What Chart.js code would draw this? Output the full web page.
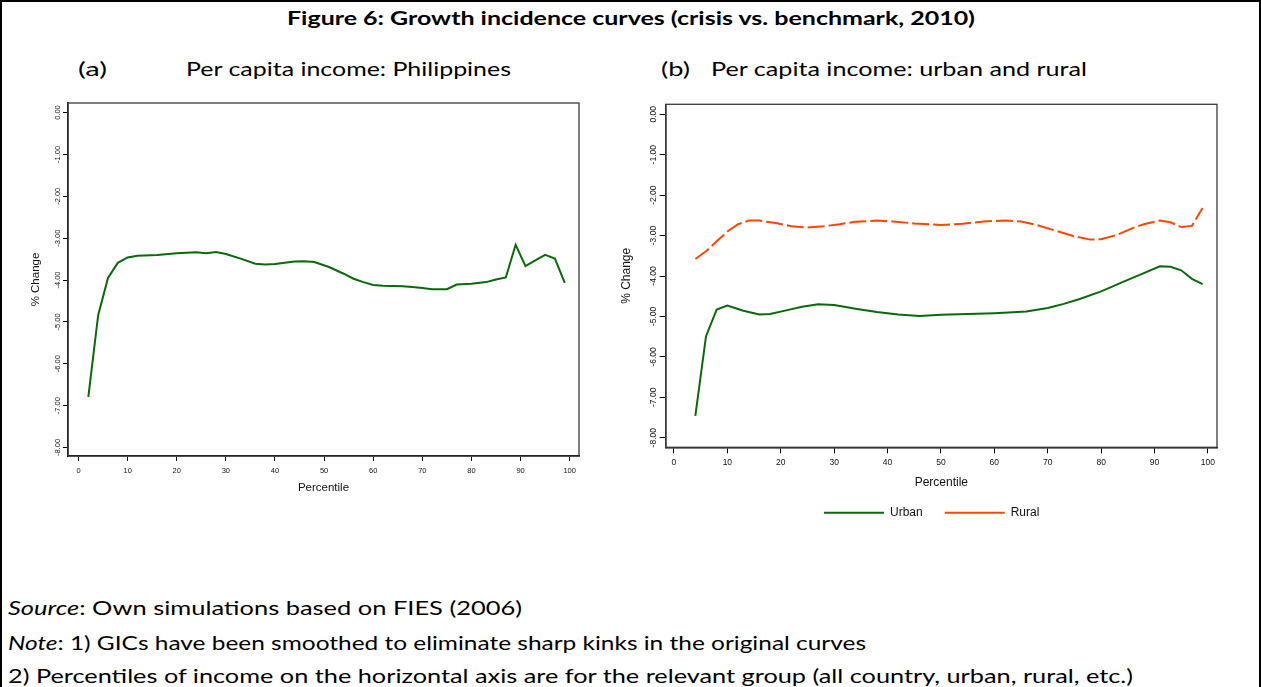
<!DOCTYPE html>
<html>
<head>
<meta charset="utf-8">
<script src="https://cdn.jsdelivr.net/npm/chart.js@4.4.1/dist/chart.umd.min.js"></script>
<style>
html,body{margin:0;padding:0;background:#fff;}
body{width:1261px;height:687px;position:relative;overflow:hidden;font-family:Lato,"Liberation Sans",sans-serif;color:#000;}
.frame{position:absolute;left:0;top:0;width:1257px;height:720px;border:2px solid #000;}
.t{position:absolute;white-space:nowrap;line-height:1;transform-origin:0 0;}
.big{font-size:20px;}
#title{font-weight:bold;font-size:19px;left:287px;top:8px;}
canvas{position:absolute;}
#c1{left:0;top:95px;}
#c2{left:600px;top:95px;}
</style>
</head>
<body>
<div class="frame"></div>
<div class="t" id="title" data-w="688">Figure 6: Growth incidence curves (crisis vs. benchmark, 2010)</div>
<div class="t big" style="left:78px;top:57.5px" data-w="29">(a)</div>
<div class="t big" style="left:186px;top:57.5px" data-w="325">Per capita income: Philippines</div>
<div class="t big" style="left:661px;top:57.5px" data-w="29">(b)</div>
<div class="t big" style="left:711px;top:57.5px" data-w="376">Per capita income: urban and rural</div>
<div class="t big" style="left:8px;top:596.5px" data-w="514"><i>Source</i>: Own simulations based on FIES (2006)</div>
<div class="t big" style="left:8px;top:631.5px" data-w="858"><i>Note</i>: 1) GICs have been smoothed to eliminate sharp kinks in the original curves</div>
<div class="t big" style="left:8px;top:664.5px" data-w="1125">2) Percentiles of income on the horizontal axis are for the relevant group (all country, urban, rural, etc.)</div>
<canvas id="c1" width="600" height="410"></canvas>
<canvas id="c2" width="640" height="440"></canvas>
<script>
// ---- data ----
const X_TICKS = [0,10,20,30,40,50,60,70,80,90,100];
const Y_TICKS = [0,-1,-2,-3,-4,-5,-6,-7,-8];

const phPct    = [2,4,6,8,10,12,16,20,24,26,28,30,33,36,38,40,44,46,48,51,54,56,58,60,62,66,68,70,72,75,77,80,83,85,87,89,91,93,95,97,99];
const phChange = [-6.79,-4.84,-3.95,-3.59,-3.46,-3.42,-3.40,-3.36,-3.34,-3.36,-3.33,-3.38,-3.49,-3.61,-3.63,-3.62,-3.56,-3.55,-3.57,-3.69,-3.85,-3.97,-4.05,-4.12,-4.14,-4.15,-4.17,-4.19,-4.22,-4.22,-4.11,-4.09,-4.05,-3.99,-3.94,-3.16,-3.67,-3.53,-3.40,-3.49,-4.07];

const urbanPct    = [4,6,8,10,13,16,18,21,24,27,30,34,38,42,46,50,55,60,66,70,73,76,80,84,88,91,93,95,97,99];
const urbanChange = [-7.46,-5.49,-4.83,-4.73,-4.86,-4.95,-4.94,-4.85,-4.76,-4.70,-4.72,-4.81,-4.89,-4.95,-4.99,-4.96,-4.94,-4.92,-4.88,-4.79,-4.69,-4.57,-4.38,-4.15,-3.93,-3.76,-3.77,-3.86,-4.07,-4.20];

const ruralPct    = [4,6,8,10,12,14,16,19,22,25,28,31,34,38,41,45,50,54,58,62,65,68,72,75,78,80,83,86,88,91,93,95,97,99];
const ruralChange = [-3.58,-3.39,-3.14,-2.90,-2.72,-2.63,-2.63,-2.69,-2.77,-2.80,-2.77,-2.72,-2.66,-2.63,-2.65,-2.70,-2.74,-2.71,-2.65,-2.63,-2.65,-2.74,-2.90,-3.02,-3.10,-3.09,-2.98,-2.81,-2.72,-2.63,-2.67,-2.79,-2.76,-2.32];

// ---- fit text widths ----
document.querySelectorAll('[data-w]').forEach(el=>{
  const w = el.getBoundingClientRect().width;
  el.style.transform = 'scaleX(' + (parseFloat(el.dataset.w)/w) + ')';
});

const FONT = "'Liberation Sans', Arial, sans-serif";
const GREEN = '#0a690a';
const ORANGE = '#ff4500';
const pts = (xs, ys) => xs.map((x,i)=>({x:x, y:ys[i]}));

const framePlugin = {
  id:'frame',
  afterDatasetsDraw(chart){
    const {ctx, chartArea:a} = chart;
    ctx.save();
    ctx.strokeStyle = '#3a3a3a';
    ctx.lineWidth = 1.3;
    ctx.strokeRect(a.left, a.top, a.right-a.left, a.bottom-a.top);
    ctx.restore();
  }
};

function scales(o){
  return {
    x:{type:'linear', min:o.xmin, max:o.xmax,
       afterBuildTicks:s=>{s.ticks = X_TICKS.map(v=>({value:v}));},
       afterFit:s=>{s.height = o.xh;},
       grid:{drawOnChartArea:false, tickLength:o.tl, color:'#000', lineWidth:1},
       border:{color:'#000', width:1.5},
       ticks:{font:{family:FONT,size:o.tf}, color:'#111', maxRotation:0, minRotation:0, autoSkip:false, padding:o.xpad},
       title:{display:true, text:'Percentile', font:{family:FONT,size:o.af}, color:'#111', padding:{top:0,bottom:o.xtp}}},
    y:{type:'linear', min:o.ymin, max:o.ymax,
       afterBuildTicks:s=>{s.ticks = Y_TICKS.map(v=>({value:v}));},
       afterFit:s=>{s.width = o.yw;},
       grid:{drawOnChartArea:false, tickLength:o.tl, color:'#000', lineWidth:1},
       border:{color:'#000', width:1.5},
       ticks:{font:{family:FONT,size:o.tf}, color:'#111', minRotation:90, maxRotation:90, crossAlign:'center', autoSkip:false, padding:o.ypad,
              callback:v=>Number(v).toFixed(2)},
       title:{display:true, text:'% Change', font:{family:FONT,size:o.af}, color:'#111', padding:{top:o.ytp,bottom:0}}}
  };
}

new Chart(document.getElementById('c1'), {
  type:'line',
  data:{datasets:[{label:'Philippines', data:pts(phPct, phChange), borderColor:GREEN, backgroundColor:GREEN,
                   borderWidth:2, pointRadius:0, tension:0, fill:false}]},
  options:{
    responsive:false, animation:false, devicePixelRatio:1,
    layout:{padding:{left:0, top:8, right:21, bottom:0}},
    plugins:{legend:{display:false}, tooltip:{enabled:false}},
    scales:scales({xmin:-2.14, xmax:101.9, ymin:-8.203, ymax:0.227, xh:49, yw:68, tl:5, tf:7.5, af:11.5,
                   xpad:5, xtp:10, ypad:-3.5, ytp:28.6})
  },
  plugins:[framePlugin]
});

new Chart(document.getElementById('c2'), {
  type:'line',
  data:{datasets:[
    {label:'Urban', data:pts(urbanPct, urbanChange), borderColor:GREEN, backgroundColor:GREEN,
     borderWidth:2, pointRadius:0, tension:0, fill:false},
    {label:'Rural', data:pts(ruralPct, ruralChange), borderColor:ORANGE, backgroundColor:ORANGE,
     borderWidth:2, borderDash:[17,4], pointRadius:0, tension:0, fill:false}
  ]},
  options:{
    responsive:false, animation:false, devicePixelRatio:1,
    layout:{padding:{left:46.4, top:9.3, right:23, bottom:6.3}},
    plugins:{
      tooltip:{enabled:false},
      legend:{display:true, position:'bottom',
        labels:{usePointStyle:true, pointStyle:'line', pointStyleWidth:60, boxWidth:60,
                font:{family:FONT,size:12}, color:'#111', padding:22}}
    },
    scales:scales({xmin:-1.55, xmax:101.7, ymin:-8.237, ymax:0.247, xh:37.4, yw:19.3, tl:6, tf:8.5, af:12,
                   xpad:4.5, xtp:-5.5, ypad:-3.5, ytp:-27.1})
  },
  plugins:[framePlugin]
});
</script>
</body>
</html>
